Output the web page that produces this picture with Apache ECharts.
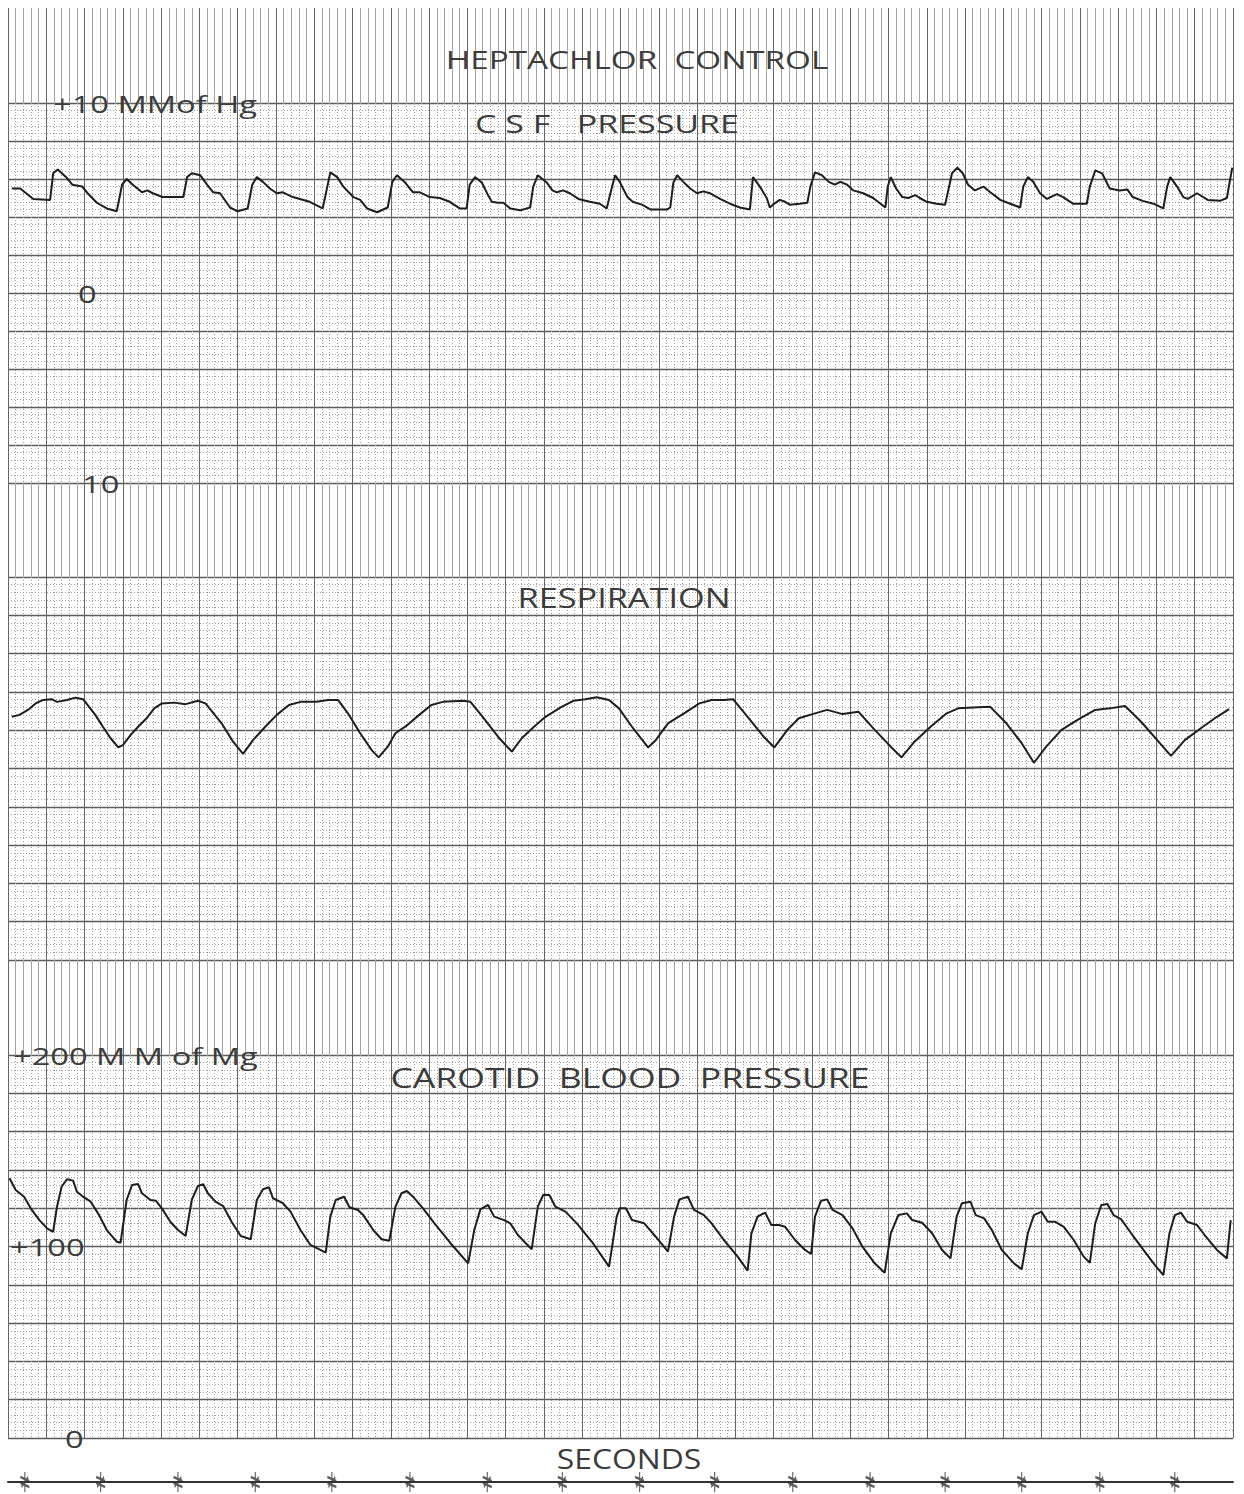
<!DOCTYPE html>
<html><head><meta charset="utf-8">
<script src="https://cdn.jsdelivr.net/npm/echarts@6/dist/echarts.min.js"></script>
<style>html,body{margin:0;padding:0;background:#fff}#c{width:1244px;height:1494px}</style>
</head><body><div id="c"></div>
<script>
// ---- data (time in seconds, values in chart units) ----
const csfTrace = [[0.05,5.5],[0.16,5.5],[0.22,5.3],[0.33,4.95],[0.55,4.9],[0.59,6.3],[0.65,6.5],[0.77,6.05],[0.84,5.7],[0.97,5.6],[1.04,5.25],[1.16,4.75],[1.29,4.45],[1.42,4.3],[1.49,5.7],[1.55,6.0],[1.63,5.7],[1.75,5.3],[1.82,5.4],[1.89,5.25],[2.02,5.05],[2.29,5.05],[2.34,6.1],[2.40,6.3],[2.51,6.2],[2.60,5.7],[2.68,5.3],[2.77,5.25],[2.90,4.5],[3.00,4.3],[3.13,4.45],[3.19,5.7],[3.25,6.1],[3.33,5.85],[3.42,5.5],[3.51,5.25],[3.59,5.3],[3.72,5.05],[3.94,4.8],[4.11,4.45],[4.21,6.35],[4.30,6.1],[4.38,5.6],[4.51,5.05],[4.60,4.9],[4.69,4.45],[4.82,4.25],[4.96,4.5],[5.02,5.85],[5.08,6.2],[5.19,5.8],[5.29,5.3],[5.38,5.3],[5.51,5.05],[5.64,5.0],[5.77,4.8],[5.90,4.45],[5.99,4.45],[6.03,5.7],[6.10,6.1],[6.19,5.8],[6.27,5.15],[6.32,4.8],[6.40,4.75],[6.47,4.75],[6.56,4.45],[6.69,4.35],[6.82,4.5],[6.86,5.6],[6.92,6.2],[7.04,5.8],[7.11,5.4],[7.17,5.3],[7.25,5.4],[7.34,5.25],[7.45,4.95],[7.60,4.8],[7.73,4.7],[7.82,4.45],[7.89,5.6],[7.93,6.2],[7.99,5.85],[8.09,5.05],[8.16,4.8],[8.28,4.65],[8.39,4.4],[8.61,4.4],[8.65,4.5],[8.69,5.8],[8.74,6.2],[8.82,5.85],[8.91,5.5],[9.00,5.25],[9.08,5.35],[9.17,5.25],[9.30,4.95],[9.43,4.7],[9.56,4.5],[9.69,4.4],[9.73,6.1],[9.82,5.6],[9.91,5.0],[9.95,4.5],[9.99,4.65],[10.08,4.9],[10.15,4.8],[10.21,4.65],[10.34,4.7],[10.44,4.75],[10.48,5.6],[10.54,6.35],[10.63,6.2],[10.72,5.85],[10.80,5.7],[10.87,5.85],[10.96,5.7],[11.04,5.4],[11.17,5.25],[11.30,5.0],[11.46,4.5],[11.49,5.6],[11.53,6.1],[11.60,5.5],[11.68,5.05],[11.76,5.0],[11.85,5.15],[11.91,5.0],[12.00,4.8],[12.13,4.7],[12.24,4.65],[12.33,6.3],[12.40,6.6],[12.47,6.3],[12.54,5.7],[12.63,5.4],[12.74,5.6],[12.83,5.3],[12.96,4.9],[13.09,4.7],[13.22,4.5],[13.26,5.6],[13.32,6.1],[13.39,5.85],[13.48,5.25],[13.57,4.95],[13.70,5.2],[13.78,5.05],[13.91,4.7],[14.09,4.7],[14.13,5.6],[14.20,6.45],[14.29,6.3],[14.39,5.5],[14.52,5.4],[14.62,5.45],[14.69,5.05],[14.82,4.85],[14.96,4.7],[15.09,4.45],[15.14,5.6],[15.18,6.1],[15.27,5.6],[15.35,5.05],[15.41,4.95],[15.53,5.25],[15.67,4.9],[15.83,4.85],[15.92,5.0],[15.99,6.6]];

const respTrace = [[0.05,6.35],[0.15,6.4],[0.26,6.53],[0.36,6.7],[0.46,6.79],[0.57,6.81],[0.64,6.74],[0.77,6.79],[0.88,6.85],[0.98,6.81],[1.14,6.4],[1.24,6.09],[1.34,5.79],[1.44,5.55],[1.50,5.61],[1.60,5.87],[1.70,6.09],[1.81,6.31],[1.91,6.57],[2.01,6.7],[2.17,6.72],[2.32,6.68],[2.48,6.77],[2.58,6.7],[2.79,6.18],[2.94,5.7],[3.07,5.38],[3.20,5.74],[3.36,6.09],[3.51,6.4],[3.67,6.66],[3.82,6.74],[4.03,6.74],[4.18,6.79],[4.31,6.79],[4.44,6.44],[4.60,5.92],[4.75,5.48],[4.84,5.29],[4.96,5.57],[5.06,5.92],[5.22,6.14],[5.37,6.4],[5.53,6.66],[5.68,6.74],[5.94,6.77],[6.04,6.74],[6.20,6.35],[6.40,5.83],[6.58,5.44],[6.71,5.79],[6.87,6.09],[7.02,6.35],[7.23,6.61],[7.39,6.77],[7.54,6.81],[7.69,6.86],[7.85,6.79],[7.98,6.57],[8.15,6.09],[8.25,5.83],[8.36,5.55],[8.46,5.74],[8.62,6.18],[8.83,6.44],[9.03,6.7],[9.19,6.79],[9.35,6.79],[9.47,6.81],[9.66,6.35],[9.87,5.83],[10.01,5.55],[10.18,6.01],[10.33,6.31],[10.54,6.44],[10.70,6.53],[10.90,6.42],[11.11,6.48],[11.32,6.01],[11.53,5.57],[11.67,5.29],[11.84,5.7],[12.05,6.09],[12.26,6.44],[12.41,6.57],[12.67,6.6],[12.83,6.61],[13.04,6.18],[13.24,5.66],[13.40,5.15],[13.56,5.57],[13.76,6.01],[13.97,6.27],[14.20,6.53],[14.39,6.57],[14.59,6.63],[14.80,6.22],[15.01,5.74],[15.19,5.33],[15.37,5.74],[15.58,6.05],[15.79,6.35],[15.95,6.55]];

const bpTrace = [[0.02,135.6],[0.10,129.5],[0.21,126.0],[0.31,119.1],[0.41,113.8],[0.51,109.5],[0.59,107.7],[0.64,120.8],[0.70,131.2],[0.77,135.1],[0.85,134.4],[0.90,128.6],[0.98,126.0],[1.08,123.4],[1.19,116.4],[1.29,108.6],[1.42,102.5],[1.47,102.0],[1.55,124.3],[1.62,132.1],[1.70,132.6],[1.75,127.8],[1.86,124.3],[1.93,123.9],[2.01,119.9],[2.12,112.9],[2.22,108.6],[2.32,105.5],[2.40,124.3],[2.48,131.6],[2.55,132.5],[2.61,127.8],[2.71,123.4],[2.81,121.1],[2.92,112.9],[3.04,105.5],[3.17,103.8],[3.25,124.3],[3.33,129.9],[3.41,130.9],[3.46,125.2],[3.59,122.6],[3.69,118.2],[3.82,108.6],[3.95,100.8],[4.15,96.8],[4.21,115.6],[4.28,124.3],[4.39,126.0],[4.46,120.5],[4.57,119.1],[4.64,116.4],[4.77,108.6],[4.88,103.8],[4.98,103.0],[5.06,120.8],[5.14,127.8],[5.21,129.0],[5.29,126.0],[5.42,119.9],[5.57,112.1],[5.78,101.7],[6.01,91.2],[6.09,108.6],[6.17,119.4],[6.27,121.7],[6.35,115.6],[6.48,113.8],[6.56,112.1],[6.66,106.0],[6.84,98.5],[6.92,120.8],[6.99,126.9],[7.07,126.9],[7.15,120.8],[7.28,118.2],[7.43,112.1],[7.64,101.7],[7.85,89.5],[7.95,115.6],[7.99,120.0],[8.07,120.0],[8.15,113.8],[8.31,112.1],[8.46,105.1],[8.62,97.3],[8.70,115.6],[8.77,124.6],[8.88,126.0],[8.96,119.1],[9.09,116.4],[9.19,112.1],[9.35,103.4],[9.53,94.7],[9.66,87.4],[9.71,106.9],[9.79,115.6],[9.89,117.7],[9.97,111.2],[10.07,111.2],[10.15,110.3],[10.28,103.4],[10.41,98.2],[10.49,96.1],[10.54,115.6],[10.62,123.9],[10.70,124.6],[10.77,119.1],[10.90,116.4],[11.03,109.5],[11.16,99.9],[11.32,91.2],[11.45,86.3],[11.53,106.9],[11.63,116.4],[11.74,117.3],[11.81,113.8],[11.94,112.4],[12.07,106.9],[12.20,98.2],[12.31,93.8],[12.39,115.6],[12.46,122.6],[12.57,123.4],[12.64,116.4],[12.75,114.7],[12.85,108.6],[12.98,98.2],[13.14,91.2],[13.24,88.1],[13.32,106.9],[13.40,116.4],[13.50,118.2],[13.58,112.9],[13.68,112.9],[13.79,110.3],[13.92,103.4],[14.05,94.7],[14.13,91.5],[14.20,112.1],[14.28,121.7],[14.36,122.2],[14.44,116.4],[14.54,114.2],[14.67,106.9],[14.83,98.2],[14.98,90.3],[15.09,85.1],[15.17,106.9],[15.24,116.4],[15.32,117.7],[15.40,112.9],[15.53,111.2],[15.63,106.0],[15.79,98.2],[15.92,93.8],[15.97,113.8]];

const secondMarks = [0.22,1.21,2.22,3.23,4.23,5.25,6.26,7.24,8.25,9.23,10.25,11.26,12.24,13.24,14.26,15.24];

const csfTickValues = [10, 0, -10];
const csfTickText = ['+10 MMof Hg', '0', '10'];
const bpTickValues = [200, 100, 0];
const bpTickText = ['+200 M M of Mg', '+100', '0'];

const titles = ['HEPTACHLOR  CONTROL', 'C S F   PRESSURE', 'RESPIRATION', 'CAROTID  BLOOD  PRESSURE', 'SECONDS'];

// ---- layout / style ----
const LEFT = 8, WIDTH = 1225;
const FONT = '"Open Sans", "DejaVu Sans", sans-serif';
const TXT = '#3c3c3c';

const layout = [
  {top: 8,    h: 95,  kind: 'band'},
  {top: 103,  h: 380, kind: 'data', min: -10, max: 10, iv: 2},
  {top: 483,  h: 94,  kind: 'band'},
  {top: 577,  h: 383, kind: 'data', min: 0, max: 10, iv: 1},
  {top: 960,  h: 95,  kind: 'band'},
  {top: 1055, h: 383, kind: 'data', min: 0, max: 200, iv: 20},
  {top: 1472, h: 20,  kind: 'time'}
];

const grids = [], xAxes = [], yAxes = [];
layout.forEach((d, i) => {
  grids.push({left: LEFT, top: d.top, width: WIDTH, height: d.h});
  if (d.kind === 'time') {
    xAxes.push({gridIndex: i, type: 'value', min: 0, max: 16,
      axisLine: {show: true, onZero: true, lineStyle: {color: '#333', width: 2}},
      axisTick: {show: false}, axisLabel: {show: false}, splitLine: {show: false}});
    yAxes.push({gridIndex: i, type: 'value', min: -1, max: 1, show: false});
    return;
  }
  const band = d.kind === 'band';
  xAxes.push({gridIndex: i, type: 'value', min: 0, max: 16, interval: 0.5,
    axisLine: {show: false}, axisTick: {show: false}, axisLabel: {show: false},
    splitLine: {show: true, lineStyle: {color: '#666', width: 1}},
    minorTick: {show: false, splitNumber: 5},
    minorSplitLine: {show: true, lineStyle: band ? {color: '#a4a4a4', width: 1} : {color: '#a0a0a0', width: 1, type: [1, 2]}}
  });
  if (band) {
    yAxes.push({gridIndex: i, type: 'value', min: 0, max: 1, show: false});
    return;
  }
  yAxes.push({gridIndex: i, type: 'value', min: d.min, max: d.max, interval: d.iv,
    axisLine: {show: false}, axisTick: {show: false}, axisLabel: {show: false},
    splitLine: {show: true, lineStyle: {color: '#5c5c5c', width: 1.3}},
    minorTick: {show: false, splitNumber: 5},
    minorSplitLine: {show: true, lineStyle: {color: '#a0a0a0', width: 1, type: [1, 2]}}
  });
});

const lineStyle = {color: '#1e1e1e', width: 2};
const mkLine = (idx, data) => ({type: 'line', xAxisIndex: idx, yAxisIndex: idx, data: data, showSymbol: false, symbol: 'none', lineStyle: lineStyle, silent: true, z: 5});

const chart = echarts.init(document.getElementById('c'), null, {renderer: 'svg', width: 1244, height: 1494});
chart.setOption({
  animation: false,
  backgroundColor: '#fff',
  grid: grids, xAxis: xAxes, yAxis: yAxes,
  series: [
    mkLine(1, csfTrace),
    mkLine(3, respTrace),
    mkLine(5, bpTrace),
    {type: 'scatter', xAxisIndex: 6, yAxisIndex: 6, data: secondMarks.map(s => [s, 0]),
     symbol: 'path://M5,0 L5,20 M1,5 L9,9 M1,11 L9,15 M2,15 L8,5', symbolSize: [9, 20],
     itemStyle: {color: 'rgba(0,0,0,0)', borderColor: '#333', borderWidth: 1.6}, silent: true, z: 6}
  ]
});

// ---- text: titles and axis value labels (label y from the axes' own scales) ----
const txt = (t, x, y, size, sx, align) => ({
  type: 'text', x: x, y: y, scaleX: sx, z: 10,
  style: {text: t, textAlign: align, textVerticalAlign: 'middle', fontSize: size, fontFamily: FONT, fontWeight: 400, fill: TXT}
});
const titleStyle = [[637, 60, 25, 1.33], [607, 123, 25, 1.36], [624, 598, 27, 1.27], [630, 1077, 28, 1.27], [629, 1458, 27, 1.18]];
const graphic = titles.map((t, k) => txt(t, titleStyle[k][0], titleStyle[k][1], titleStyle[k][2], titleStyle[k][3], 'center'));

const csfLabelX = [53, 78, 82], bpLabelX = [13, 10, 65];
csfTickValues.forEach((v, k) => {
  const y = chart.convertToPixel({yAxisIndex: 1}, v);
  graphic.push(txt(csfTickText[k], csfLabelX[k], y, 24, 1.36, 'left'));
});
bpTickValues.forEach((v, k) => {
  const y = chart.convertToPixel({yAxisIndex: 5}, v);
  graphic.push(txt(bpTickText[k], bpLabelX[k], y, 24, 1.36, 'left'));
});
chart.setOption({graphic: graphic});
</script></body></html>
